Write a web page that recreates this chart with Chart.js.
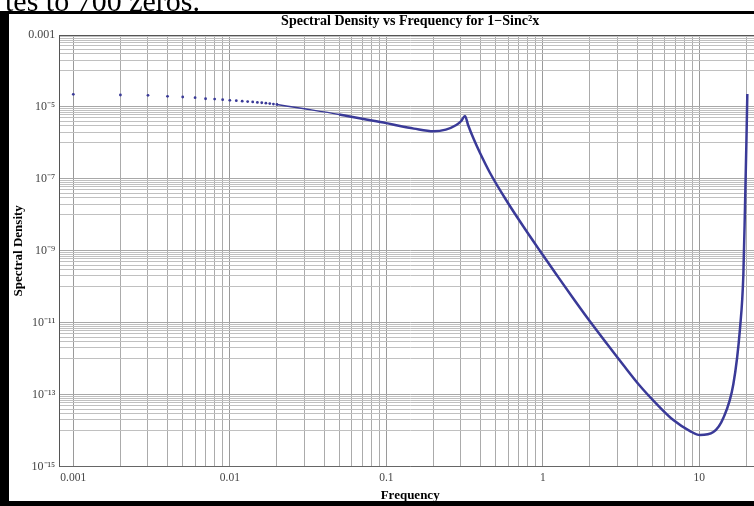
<!DOCTYPE html>
<html><head><meta charset="utf-8">
<script src="https://cdn.jsdelivr.net/npm/chart.js@4.4.1/dist/chart.umd.min.js"></script>
<style>
html,body{margin:0;padding:0;background:#fff;overflow:hidden;}
#wrap{position:relative;width:754px;height:506px;overflow:hidden;background:#fff;}
#c{position:absolute;left:0;top:0;}
#cut{position:absolute;left:5px;top:-14px;font-size:30px;line-height:30px;font-family:"Liberation Serif",serif;color:#000;white-space:nowrap;}
.bar{position:absolute;background:#000;}
</style></head><body>
<div id="wrap">
<canvas id="c" width="765" height="506"></canvas>
<div id="cut">tes to 700 zeros.</div>
<div class="bar" style="left:0;top:11px;width:754px;height:3px"></div>
<div class="bar" style="left:0;top:11px;width:9px;height:495px"></div>
<div class="bar" style="left:0;top:501px;width:754px;height:5px"></div>
</div>
<script>
// ---- data ----
const dotFrequency = [0.001,0.002,0.003,0.004,0.005,0.006,0.007,0.008,0.009,0.010,
                      0.011,0.012,0.013,0.014,0.015,0.016,0.017,0.018,0.019,0.020];
const dotDensity   = [2.24e-5,2.15e-5,2.11e-5,1.98e-5,1.89e-5,1.81e-5,1.69e-5,1.66e-5,1.59e-5,1.53e-5,
                      1.49e-5,1.45e-5,1.41e-5,1.38e-5,1.34e-5,1.31e-5,1.27e-5,1.24e-5,1.20e-5,1.17e-5];
const lineFrequency = [0.02,0.03,0.05,0.07,0.10,0.12,0.15,0.20,0.24,0.28,0.30,0.318,0.333,0.360,0.397,0.460,0.588,0.751,0.960,1.227,1.566,2.003,2.560,3.268,4.180,5.343,6.823,8.721,10.10,12.29,14.23,16.50,18.20,19.11,19.59,19.97,20.26];
const lineDensity   = [1.17e-5,8.9e-6,6.2e-6,4.7e-6,3.55e-6,3.0e-6,2.5e-6,2.1e-6,2.35e-6,3.15e-6,4.0e-6,5.6e-6,3.15e-6,1.34e-6,5.24e-7,1.46e-7,2.43e-8,4.74e-9,9.89e-10,2.13e-10,4.72e-11,1.08e-11,2.65e-12,6.70e-13,1.75e-13,5.51e-14,1.98e-14,9.79e-15,7.58e-15,9.18e-15,2.25e-14,1.98e-13,7.15e-12,2.13e-10,1.88e-8,8.75e-7,2.29e-5];
const xMajorValues = [0.001,0.01,0.1,1,10];
const xTickLabels  = ['0.001','0.01','0.1','1','10'];
const yMajorValues = [1e-3,1e-5,1e-7,1e-9,1e-11,1e-13,1e-15];
const yTickLabels  = ['0.001','10\u207B\u2075','10\u207B\u2077','10\u207B\u2079','10\u207B\u00B9\u00B9','10\u207B\u00B9\u00B3','10\u207B\u00B9\u2075'];
const chartTitle = 'Spectral Density vs Frequency for 1\u2212Sinc\u00B2x';
const xTitle = 'Frequency';
const yTitle = 'Spectral Density';

// ---- styling / layout ----
const X_MIN = Math.pow(10,-3.0895), X_MAX = Math.pow(10,1.394);
const Y_MIN = 1e-15, Y_MAX = 1e-3;
const curveColor = '#3a3a98';
const serif = '"Liberation Serif", "Times New Roman", serif';

function near(a,b){ return Math.abs(a-b) <= Math.abs(b)*1e-6; }

const xTickVals = [];
for (let e=-3;e<=1;e++) for (let m=1;m<=9;m++){ const v=m*Math.pow(10,e); if(v<=X_MAX) xTickVals.push(v); }
const yTickVals = [];
[3,5,7,9,11,13].forEach(e=>{ yTickVals.push(Math.pow(10,-e)); for(let m=9;m>=1;m--) yTickVals.push(m*Math.pow(10,-(e+1))); });
yTickVals.push(1e-15);

const frameTop = {
  id:'frameTop',
  afterDraw(chart){
    const {ctx, chartArea:a} = chart;
    ctx.save(); ctx.strokeStyle='#555'; ctx.lineWidth=1;
    ctx.beginPath(); ctx.moveTo(a.left, a.top+0.5); ctx.lineTo(a.right, a.top+0.5); ctx.stroke();
    ctx.restore();
  }
};

new Chart(document.getElementById('c'), {
  type:'line',
  data:{
    datasets:[
      { data: dotFrequency.map((f,i)=>({x:f,y:dotDensity[i]})), showLine:false,
        pointRadius:1.4, pointBackgroundColor:curveColor, pointBorderWidth:0, borderColor:curveColor },
      { data: lineFrequency.map((f,i)=>({x:f,y:lineDensity[i]})), pointRadius:0, borderColor:curveColor,
        borderWidth:2.5, cubicInterpolationMode:'monotone', fill:false,
        segment:{ borderWidth: c => c.p0.parsed.x < 0.05 ? 1.5 : 2.5 } }
    ]
  },
  options:{
    responsive:false, animation:false,
    layout:{padding:0},
    plugins:{
      legend:{display:false}, tooltip:{enabled:false},
      title:{display:true, text:chartTitle, fullSize:false, color:'#000',
        font:{family:serif,size:14,weight:'bold'}, padding:{top:12.5,bottom:5.7}}
    },
    scales:{
      x:{ type:'logarithmic', min:X_MIN, max:X_MAX,
        afterBuildTicks: s => { s.ticks = xTickVals.map(v=>({value:v})); },
        afterFit: s => { s.height = 39.3; s.paddingRight = 0; s.paddingLeft = 0; },
        grid:{ drawTicks:false, color: c => (c.tick && xMajorValues.some(v=>near(c.tick.value,v))) ? '#9a9a9a' : '#ababab', lineWidth:1 },
        border:{display:true, color:'#666', width:1},
        ticks:{ autoSkip:false, maxRotation:0, padding:4, color:'#444', font:{family:serif,size:11.5},
          callback: v => { const i = xMajorValues.findIndex(m=>near(v,m)); return i>=0 ? xTickLabels[i] : ''; } },
        title:{display:true, text:xTitle, color:'#000', font:{family:serif,size:13,weight:'bold'}, padding:{top:0,bottom:2.5}}
      },
      y:{ type:'logarithmic', min:Y_MIN, max:Y_MAX,
        afterBuildTicks: s => { s.ticks = yTickVals.map(v=>({value:v})); },
        afterFit: s => { s.width = 59.3; },
        grid:{ drawTicks:false, color: c => (c.tick && yMajorValues.some(v=>near(c.tick.value,v))) ? '#a8a8a8' : '#c0c0c0', lineWidth:1 },
        border:{display:true, color:'#555', width:1},
        ticks:{ autoSkip:false, padding:4, color:'#444', font:{family:serif,size:12},
          callback: v => { const i = yMajorValues.findIndex(m=>near(v,m)); return i>=0 ? yTickLabels[i] : ''; } },
        title:{display:true, text:yTitle, color:'#000', font:{family:serif,size:13,weight:'bold'}, padding:{top:11.2,bottom:0}}
      }
    }
  },
  plugins:[frameTop]
});
</script>
</body></html>
